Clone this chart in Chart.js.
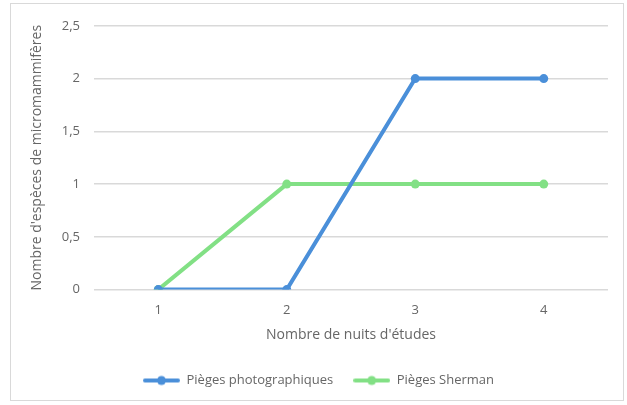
<!DOCTYPE html>
<html>
<head>
<meta charset="utf-8">
<script src="https://cdn.jsdelivr.net/npm/chart.js@4/dist/chart.umd.min.js"></script>
<style>
  body { margin: 0; background: #fff; }
  #box { position: absolute; left: 10px; top: 3px; width: 612px; height: 396px; border: 1px solid #d9d9d9; }
  #wrap { position: absolute; left: 0; top: 0; width: 612px; height: 396px; }
</style>
</head>
<body>
<div id="box"><div id="wrap"><canvas id="myChart"></canvas></div></div>
<script>
// data
var nights = ["1", "2", "3", "4"];
var photoTraps = [0, 0, 2, 2];
var shermanTraps = [0, 1, 1, 1];
var seriesNames = ["Pièges photographiques", "Pièges Sherman"];
var seriesColors = ['#4a8fd9', '#82e085'];
var yTicks = [0, 0.5, 1, 1.5, 2, 2.5];

var grey = '#666666';
var fontName = '"Open Sans", Lato, sans-serif';

// FUNCTION: small legend symbol (line with a dot in the middle)
function legendIcon(color) {
    var c = document.createElement('canvas');
    c.width = 37; c.height = 12;
    var g = c.getContext('2d');
    g.strokeStyle = color;
    g.lineWidth = 4;
    g.lineCap = 'round';
    g.beginPath(); g.moveTo(2, 6); g.lineTo(35, 6); g.stroke();
    g.fillStyle = color;
    g.beginPath(); g.arc(18.5, 6, 4.5, 0, Math.PI * 2); g.fill();
    return c;
}

var ctx = document.getElementById('myChart').getContext('2d');

var chart = new Chart(ctx, {
    type: 'line',
    data: {
        labels: nights,
        datasets: [{
            label: seriesNames[0],
            data: photoTraps,
            borderColor: seriesColors[0],
            backgroundColor: seriesColors[0],
            borderWidth: 4,
            pointRadius: 4.5,
            pointBorderWidth: 0,
            pointHoverRadius: 4.5,
            tension: 0
        }, {
            label: seriesNames[1],
            data: shermanTraps,
            borderColor: seriesColors[1],
            backgroundColor: seriesColors[1],
            borderWidth: 4,
            pointRadius: 4.5,
            pointBorderWidth: 0,
            pointHoverRadius: 4.5,
            tension: 0
        }]
    },
    options: {
        responsive: true,
        maintainAspectRatio: false,
        animation: false,
        layout: { padding: { left: 18, right: 15, top: -3, bottom: 3 } },
        plugins: {
            tooltip: { enabled: false },
            legend: {
                position: 'bottom',
                labels: {
                    usePointStyle: true,
                    pointStyleWidth: 37,
                    color: grey,
                    padding: 20,
                    font: { family: fontName, size: 13 },
                    generateLabels: function(chart) {
                        return chart.data.datasets.map(function(ds, i) {
                            return {
                                text: ds.label,
                                pointStyle: legendIcon(ds.borderColor),
                                fillStyle: ds.borderColor,
                                strokeStyle: ds.borderColor,
                                lineWidth: 0,
                                fontColor: grey,
                                datasetIndex: i
                            };
                        });
                    }
                }
            }
        },
        scales: {
            x: {
                offset: true,
                grid: { display: false },
                border: { display: false },
                ticks: { color: grey, font: { family: fontName, size: 13 }, padding: 5 },
                title: {
                    display: true,
                    text: "Nombre de nuits d'études",
                    color: grey,
                    font: { family: fontName, size: 14 },
                    padding: { top: 3, bottom: 11 }
                }
            },
            y: {
                min: 0,
                max: 2.5,
                afterBuildTicks: function(axis) {
                    axis.ticks = yTicks.map(function(v) { return { value: v }; });
                },
                grid: { color: '#d9d9d9', lineWidth: 1.5, drawTicks: false },
                border: { display: false },
                ticks: {
                    color: grey,
                    font: { family: fontName, size: 13 },
                    padding: 14,
                    callback: function(v) { return String(v).replace('.', ','); }
                },
                title: {
                    display: true,
                    text: "Nombre d'espèces de micromammifères",
                    color: grey,
                    font: { family: fontName, size: 14 },
                    padding: { top: 0, bottom: 2 }
                }
            }
        }
    }
});
</script>
</body>
</html>
